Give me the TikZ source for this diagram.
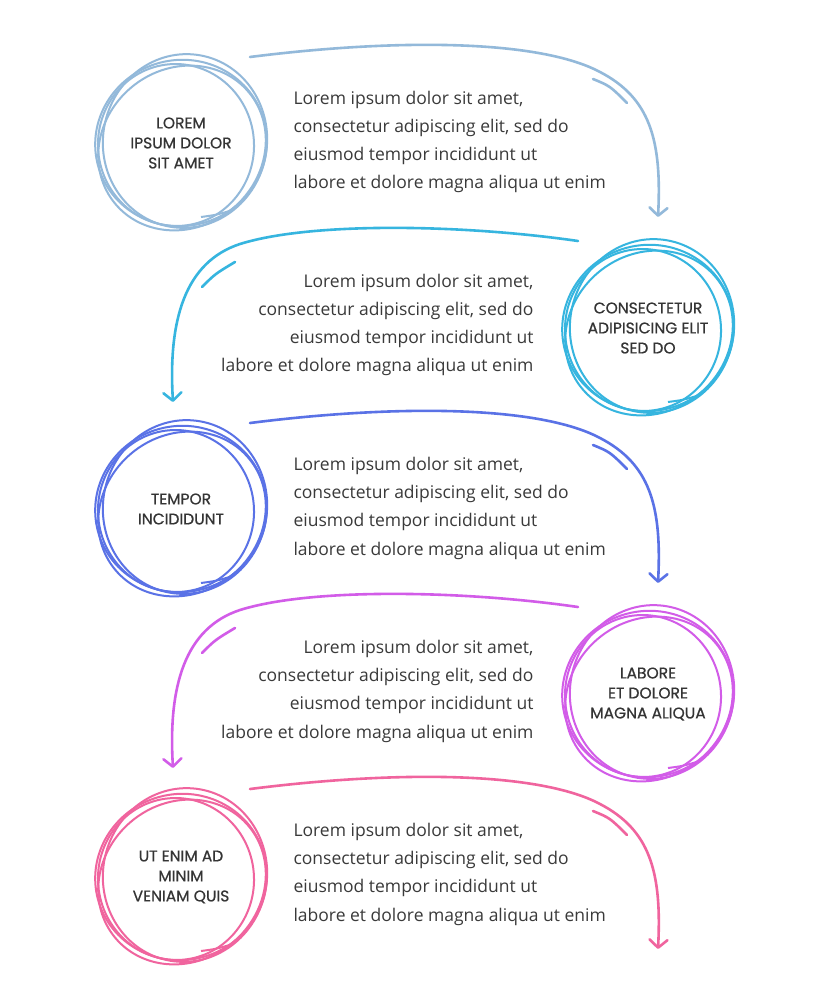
\documentclass[tikz,border=0pt]{standalone}
\usepackage{fontspec}
\setmainfont{Open Sans}
\newfontfamily\capsfont{Poppins}[FakeBold=0.6]
\usetikzlibrary{arrows.meta}

\definecolor{inkA}{HTML}{93B9DA}
\definecolor{inkB}{HTML}{36B5DF}
\definecolor{inkC}{HTML}{5A72E6}
\definecolor{inkD}{HTML}{D25CE8}
\definecolor{inkE}{HTML}{F0649E}
\definecolor{txtgray}{HTML}{3A3A3A}

\newcommand{\loremtext}{Lorem ipsum dolor sit amet,\\consectetur adipiscing elit, sed do\\eiusmod tempor incididunt ut\\labore et dolore magna aliqua ut enim}

\tikzset{
    ring/.style={line width=2pt},
    flow/.style={line width=2.6pt, line cap=round, -{Straight Barb[length=8pt, width=18pt, round]}},
    swish/.style={line width=2.6pt, line cap=round},
    lbl/.style={font=\capsfont\fontsize{15.5}{20}\selectfont, text=txtgray!90!black, align=center},
    body/.style={font=\fontsize{17.5}{28.3}\selectfont, text=txtgray},
    scribble/.pic={
        \draw[ring] (0,0) ellipse [x radius=86, y radius=83, rotate=15];
        \draw[ring] (4,-2) ellipse [x radius=82, y radius=87, rotate=-10];
        \draw[ring] (-5,2) ellipse [x radius=78, y radius=81, rotate=5];
        \draw[ring] (1,5) ellipse [x radius=87, y radius=79, rotate=40];
        \draw[ring] (20,74) .. controls (35,72) .. (52,67);
    }
}

\begin{document}
\begin{tikzpicture}[x=1pt, y=-1pt]
    \useasboundingbox[fill=white] (0,0) rectangle (815,1000);

    \node[lbl] (circ1) at (181,143) {LOREM\\IPSUM DOLOR\\SIT AMET};
    \node[lbl] (circ2) at (648,328) {CONSECTETUR\\ADIPISICING ELIT\\SED DO};
    \node[lbl] (circ3) at (181,509) {TEMPOR\\INCIDIDUNT};
    \node[lbl] (circ4) at (648,694) {LABORE\\ET DOLORE\\MAGNA ALIQUA};
    \node[lbl] (circ5) at (181,877) {UT ENIM AD\\MINIM\\VENIAM QUIS};

    \pic[inkA] at (circ1) {scribble};
    \pic[inkB] at (circ2) {scribble};
    \pic[inkC] at (circ3) {scribble};
    \pic[inkD] at (circ4) {scribble};
    \pic[inkE] at (circ5) {scribble};

    \node[body, align=left, anchor=west] (txt1) at (290,142) {\loremtext};
    \node[body, align=right, anchor=east] (txt2) at (537,325) {\loremtext};
    \node[body, align=left, anchor=west] (txt3) at (290,508) {\loremtext};
    \node[body, align=right, anchor=east] (txt4) at (537,691) {\loremtext};
    \node[body, align=left, anchor=west] (txt5) at (290,874) {\loremtext};

    \foreach \k/\c in {0/inkA, 2/inkC, 4/inkE} {
        \begin{scope}[yshift=-\k*183pt]
            \coordinate (go\k) at (250,57);
            \coordinate (to\k) at (658,217);
            \draw[flow, \c] (go\k) .. controls (400,38) and (540,40) .. (600,72)
                .. controls (650,98) and (662,140) .. (to\k);
            \draw[swish, \c] (593,79) .. controls (610,86) .. (627,103);
        \end{scope}
    }
    \foreach \k/\c in {0/inkB, 2/inkD} {
        \begin{scope}[yshift=-\k*183pt]
            \coordinate (back\k) at (578,241);
            \coordinate (down\k) at (173,402);
            \draw[flow, \c] (back\k) .. controls (460,224) and (310,222) .. (240,244)
                .. controls (185,262) and (168,320) .. (down\k);
            \draw[swish, \c] (202,287) .. controls (215,274) .. (235,262);
        \end{scope}
    }
\end{tikzpicture}
\end{document}
